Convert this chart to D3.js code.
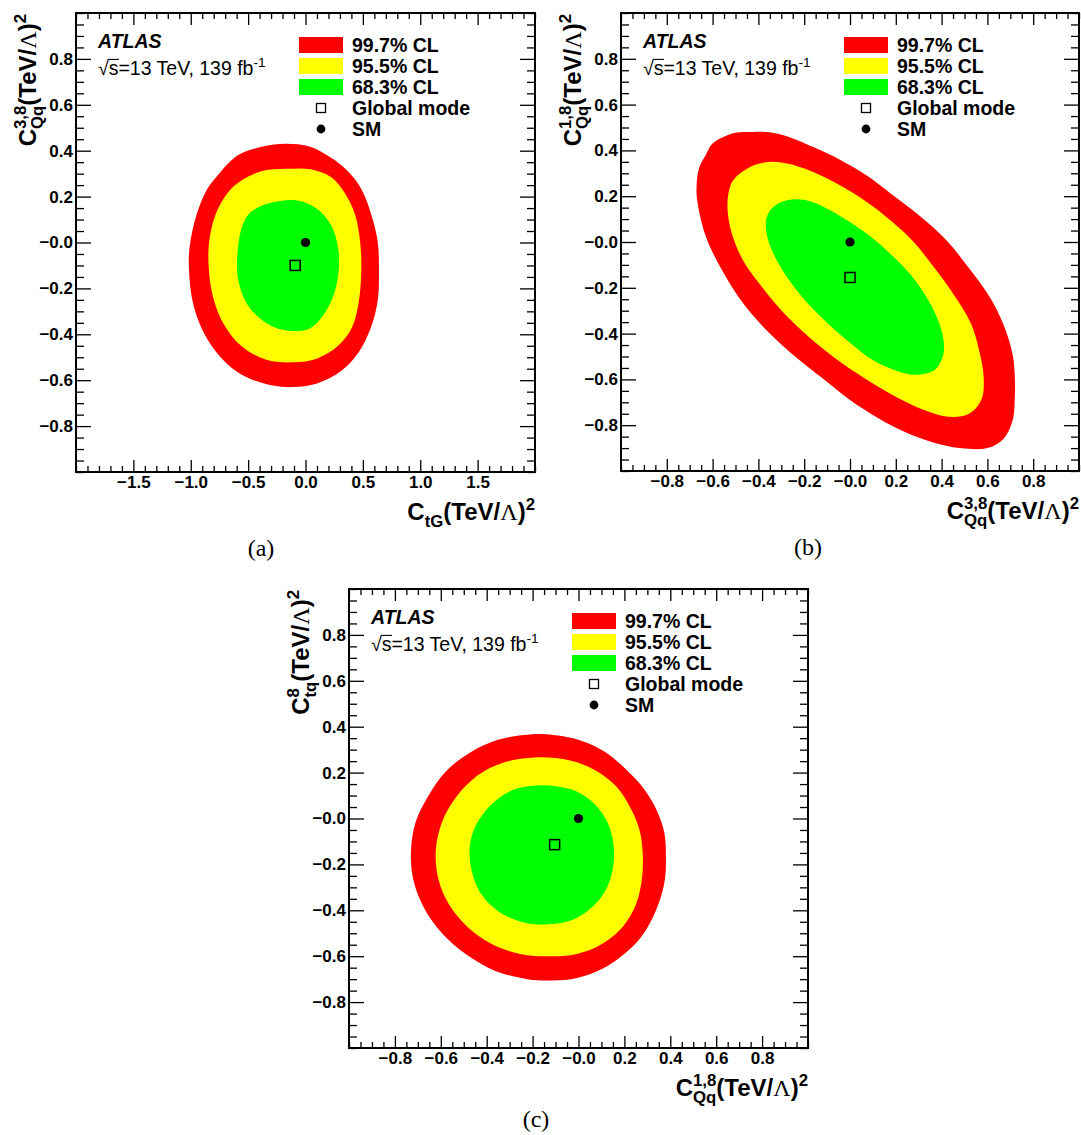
<!DOCTYPE html>
<html><head><meta charset="utf-8">
<script src="https://cdn.jsdelivr.net/npm/d3@7"></script>
<style>
body{margin:0;background:#fff;}
svg{display:block;}
text{font-family:"Liberation Sans",Arial,Helvetica,sans-serif;fill:#000;}
</style></head><body>
<svg id="chart" width="1081" height="1135"></svg>
<script>
// ---------------- DATA ----------------
const levelLabels = ["99.7% CL", "95.5% CL", "68.3% CL"];
const markerLabels = ["Global mode", "SM"];
const levelColors = ["#ff0000", "#ffff00", "#00ff00"];
const atlasLabel = "ATLAS";

const yDomain = [-1, 1];
const yMajor = [0.8, 0.6, 0.4, 0.2, 0, -0.2, -0.4, -0.6, -0.8];
const yLabels = ["0.8", "0.6", "0.4", "0.2", "\u22120.0", "\u22120.2", "\u22120.4", "\u22120.6", "\u22120.8"];

const xDomainA = [-2, 2];
const xMajorA = [-1.5, -1, -0.5, 0, 0.5, 1, 1.5];
const xLabelsA = ["\u22121.5", "\u22121.0", "\u22120.5", "0.0", "0.5", "1.0", "1.5"];
const xDomainBC = [-1, 1];
const xMajorBC = [-0.8, -0.6, -0.4, -0.2, 0, 0.2, 0.4, 0.6, 0.8];
const xLabelsBC = ["\u22120.8", "\u22120.6", "\u22120.4", "\u22120.2", "\u22120.0", "0.2", "0.4", "0.6", "0.8"];

// Panel (a): C_tG vs C_Qq^{3,8}
const contourA_997 = [[-0.17,0.43],[-0.38,0.417],[-0.59,0.38],[-0.77,0.29],[-0.86,0.23],[-0.95,0.12],[-1.01,-0.02],[-1.015,-0.125],[-0.98,-0.265],[-0.89,-0.39],[-0.74,-0.50],[-0.56,-0.575],[-0.32,-0.62],[-0.11,-0.63],[0.10,-0.614],[0.31,-0.56],[0.46,-0.48],[0.57,-0.37],[0.63,-0.25],[0.64,-0.125],[0.63,0.0],[0.58,0.11],[0.49,0.23],[0.37,0.31],[0.22,0.37],[0.04,0.417]];
const contourA_955 = [[-0.168,0.321],[-0.378,0.312],[-0.559,0.27],[-0.679,0.216],[-0.784,0.122],[-0.841,-0.002],[-0.841,-0.126],[-0.799,-0.25],[-0.709,-0.358],[-0.559,-0.451],[-0.348,-0.51],[-0.108,-0.522],[0.102,-0.505],[0.282,-0.451],[0.402,-0.374],[0.462,-0.265],[0.486,-0.126],[0.477,-0.002],[0.432,0.122],[0.342,0.216],[0.222,0.285],[0.042,0.319]];
const contourA_683 = [[-0.168,0.184],[-0.378,0.161],[-0.498,0.122],[-0.559,0.06],[-0.595,-0.064],[-0.589,-0.157],[-0.529,-0.25],[-0.438,-0.312],[-0.288,-0.366],[-0.108,-0.386],[0.042,-0.374],[0.162,-0.312],[0.252,-0.219],[0.291,-0.11],[0.282,-0.017],[0.222,0.076],[0.102,0.146],[-0.048,0.181]];
const modeA = [-0.09, -0.10];

// Panel (b): C_Qq^{3,8} vs C_Qq^{1,8}
const contourB_997 = [[-0.60,0.43],[-0.51,0.475],[-0.45,0.48],[-0.36,0.48],[-0.27,0.46],[-0.15,0.41],[-0.046,0.36],[0.073,0.29],[0.18,0.21],[0.30,0.118],[0.42,0.009],[0.52,-0.115],[0.61,-0.24],[0.67,-0.36],[0.71,-0.49],[0.72,-0.595],[0.72,-0.67],[0.71,-0.78],[0.67,-0.86],[0.60,-0.90],[0.48,-0.90],[0.36,-0.874],[0.24,-0.83],[0.118,-0.766],[0.0,-0.69],[-0.12,-0.595],[-0.24,-0.50],[-0.36,-0.39],[-0.465,-0.27],[-0.555,-0.13],[-0.63,0.025],[-0.667,0.18],[-0.67,0.24],[-0.66,0.32],[-0.63,0.38]];
const contourB_955 = [[-0.51,0.27],[-0.45,0.32],[-0.375,0.347],[-0.30,0.347],[-0.196,0.32],[-0.076,0.265],[0.043,0.195],[0.148,0.118],[0.27,0.009],[0.37,-0.115],[0.46,-0.24],[0.53,-0.36],[0.567,-0.487],[0.584,-0.595],[0.574,-0.688],[0.52,-0.75],[0.43,-0.763],[0.327,-0.735],[0.208,-0.68],[0.088,-0.61],[-0.03,-0.533],[-0.15,-0.44],[-0.27,-0.33],[-0.375,-0.208],[-0.465,-0.084],[-0.517,0.04],[-0.535,0.149],[-0.528,0.226]];
const contourB_683 = [[-0.36,0.118],[-0.33,0.157],[-0.27,0.183],[-0.196,0.183],[-0.106,0.149],[0.0,0.087],[0.088,0.025],[0.178,-0.053],[0.268,-0.146],[0.342,-0.254],[0.387,-0.347],[0.41,-0.44],[0.405,-0.50],[0.372,-0.557],[0.297,-0.58],[0.208,-0.564],[0.103,-0.518],[0.0,-0.44],[-0.106,-0.347],[-0.21,-0.239],[-0.30,-0.115],[-0.353,-0.006],[-0.368,0.071]];
const modeB = [0.0, -0.155];

// Panel (c): C_Qq^{1,8} vs C_tq^8
const contourC_997 = [[-0.2,0.367],[-0.347,0.344],[-0.47,0.289],[-0.58,0.203],[-0.657,0.094],[-0.71,-0.016],[-0.73,-0.14],[-0.72,-0.266],[-0.673,-0.39],[-0.595,-0.5],[-0.487,-0.594],[-0.363,-0.664],[-0.223,-0.70],[-0.115,-0.706],[-0.006,-0.695],[0.102,-0.656],[0.195,-0.594],[0.273,-0.516],[0.335,-0.406],[0.374,-0.281],[0.381,-0.172],[0.374,-0.0625],[0.343,0.031],[0.288,0.125],[0.21,0.211],[0.118,0.289],[0.009,0.34],[-0.1,0.3625]];
const contourC_955 = [[-0.192,0.266],[-0.332,0.242],[-0.44,0.1875],[-0.533,0.094],[-0.595,-0.016],[-0.622,-0.14],[-0.61,-0.266],[-0.564,-0.375],[-0.487,-0.469],[-0.378,-0.547],[-0.254,-0.59],[-0.13,-0.60],[-0.006,-0.59],[0.102,-0.547],[0.195,-0.469],[0.25,-0.375],[0.276,-0.266],[0.28,-0.156],[0.265,-0.047],[0.226,0.047],[0.164,0.14],[0.071,0.211],[-0.037,0.253]];
const contourC_683 = [[-0.184,0.144],[-0.285,0.125],[-0.378,0.0625],[-0.448,-0.031],[-0.474,-0.125],[-0.464,-0.234],[-0.425,-0.328],[-0.347,-0.406],[-0.239,-0.453],[-0.13,-0.461],[-0.022,-0.44],[0.071,-0.375],[0.126,-0.297],[0.152,-0.203],[0.152,-0.109],[0.126,-0.016],[0.071,0.0625],[-0.006,0.117],[-0.099,0.14]];
const modeC = [-0.104, -0.114];

const smPoint = [0, 0];

// axis titles (text parts)
const titleCtG   = [{t:"C"},{sub:"tG"},{t:"(TeV/"},{t:"\u039B",serif:true},{t:")"},{sup:"2"}];
const titleCQq38 = [{t:"C"},{sup:"3,8",sub:"Qq"},{t:"(TeV/"},{t:"\u039B",serif:true},{t:")"},{sup:"2"}];
const titleCQq18 = [{t:"C"},{sup:"1,8",sub:"Qq"},{t:"(TeV/"},{t:"\u039B",serif:true},{t:")"},{sup:"2"}];
const titleCtq8  = [{t:"C"},{sup:"8",sub:"tq"},{t:"(TeV/"},{t:"\u039B",serif:true},{t:")"},{sup:"2"}];
const energyParts = [{t:"\u221A"},{t:"s",over:true},{t:"=13 TeV, 139 fb"},{sup:"-1"}];
const captions = ["(a)", "(b)", "(c)"];

// ---------------- LAYOUT ----------------
const panels = [
  {frame:[76,13,535,472], xDomain:xDomainA, xMajor:xMajorA, xLabels:xLabelsA, xMinorStep:0.1,
   contours:[contourA_997,contourA_955,contourA_683], mode:modeA, xTitle:titleCtG, yTitle:titleCQq38, caption:captions[0], capX:261, capY:556},
  {frame:[621,13,1079,471], xDomain:xDomainBC, xMajor:xMajorBC, xLabels:xLabelsBC, xMinorStep:0.05,
   contours:[contourB_997,contourB_955,contourB_683], mode:modeB, xTitle:titleCQq38, yTitle:titleCQq18, caption:captions[1], capX:808, capY:555},
  {frame:[349,589,808,1048], xDomain:xDomainBC, xMajor:xMajorBC, xLabels:xLabelsBC, xMinorStep:0.05,
   contours:[contourC_997,contourC_955,contourC_683], mode:modeC, xTitle:titleCQq18, yTitle:titleCtq8, caption:captions[2], capX:536, capY:1127}
];
const yMinorStep = 0.05;
const FONT = "'Liberation Sans', Arial, Helvetica, sans-serif";
const SERIF = "'Liberation Serif', 'DejaVu Serif', serif";

const svg = d3.select("#chart");

function drawRich(parent, parts, size, weight) {
  const g = parent.append("g");
  let x = 0;
  const ss = size * 0.7;
  parts.forEach(p => {
    if (p.t !== undefined) {
      const t = g.append("text").attr("x", x).attr("y", 0)
        .style("font-size", size + "px")
        .style("font-weight", p.serif ? "normal" : weight)
        .style("font-family", p.serif ? SERIF : FONT)
        .text(p.t);
      const len = t.node().getComputedTextLength();
      if (p.over) {
        g.append("line").attr("x1", x - 1).attr("x2", x + len + 0.5)
          .attr("y1", -size * 0.80).attr("y2", -size * 0.80)
          .attr("stroke", "#000").attr("stroke-width", 1.1);
      }
      x += len;
    } else {
      let w = 0;
      if (p.sup !== undefined) {
        const t = g.append("text").attr("x", x).attr("y", -size * 0.42)
          .style("font-size", ss + "px").style("font-weight", weight).style("font-family", FONT)
          .text(p.sup);
        w = Math.max(w, t.node().getComputedTextLength());
      }
      if (p.sub !== undefined) {
        const t = g.append("text").attr("x", x).attr("y", size * 0.30)
          .style("font-size", ss + "px").style("font-weight", weight).style("font-family", FONT)
          .text(p.sub);
        w = Math.max(w, t.node().getComputedTextLength());
      }
      x += w;
    }
  });
  return {g, width: x};
}

function minors(domain, step, majors) {
  const out = [];
  const n = Math.round((domain[1] - domain[0]) / step);
  for (let i = 0; i <= n; i++) {
    const v = +(domain[0] + i * step).toFixed(5);
    if (!majors.some(m => Math.abs(m - v) < 1e-6)) out.push(v);
  }
  return out;
}

function styleAxis(sel) {
  sel.select(".domain").remove();
  sel.selectAll(".tick line").attr("stroke", "#000").attr("stroke-width", 1.3);
  sel.selectAll(".tick text").attr("fill", "#000")
    .style("font-size", "17px").style("font-weight", "bold").style("font-family", FONT);
}

panels.forEach(p => {
  const [x0, y0, x1, y1] = p.frame;
  const x = d3.scaleLinear().domain(p.xDomain).range([x0, x1]);
  const y = d3.scaleLinear().domain(yDomain).range([y1, y0]);
  const g = svg.append("g");

  // contours
  const line = d3.line().x(d => x(d[0])).y(d => y(d[1])).curve(d3.curveCatmullRomClosed.alpha(0.5));
  p.contours.forEach((c, i) => {
    g.append("path").attr("d", line(c)).attr("fill", levelColors[i]).attr("stroke", "none");
  });

  // axes: majors
  const xMin = minors(p.xDomain, p.xMinorStep, p.xMajor);
  const yMin = minors(yDomain, yMinorStep, yMajor);
  g.append("g").attr("transform", `translate(0,${y1})`)
    .call(d3.axisBottom(x).tickValues(p.xMajor).tickFormat((d, i) => p.xLabels[i]).tickSize(-12).tickPadding(4).tickSizeOuter(0))
    .call(styleAxis);
  g.append("g").attr("transform", `translate(0,${y1})`)
    .call(d3.axisBottom(x).tickValues(xMin).tickFormat("").tickSize(-6).tickSizeOuter(0)).call(styleAxis);
  g.append("g").attr("transform", `translate(0,${y0})`)
    .call(d3.axisTop(x).tickValues(p.xMajor).tickFormat("").tickSize(-12).tickSizeOuter(0)).call(styleAxis);
  g.append("g").attr("transform", `translate(0,${y0})`)
    .call(d3.axisTop(x).tickValues(xMin).tickFormat("").tickSize(-6).tickSizeOuter(0)).call(styleAxis);

  g.append("g").attr("transform", `translate(${x0},0)`)
    .call(d3.axisLeft(y).tickValues(yMajor).tickFormat((d, i) => yLabels[i]).tickSize(-15).tickPadding(3).tickSizeOuter(0))
    .call(styleAxis);
  g.append("g").attr("transform", `translate(${x0},0)`)
    .call(d3.axisLeft(y).tickValues(yMin).tickFormat("").tickSize(-8).tickSizeOuter(0)).call(styleAxis);
  g.append("g").attr("transform", `translate(${x1},0)`)
    .call(d3.axisRight(y).tickValues(yMajor).tickFormat("").tickSize(-15).tickSizeOuter(0)).call(styleAxis);
  g.append("g").attr("transform", `translate(${x1},0)`)
    .call(d3.axisRight(y).tickValues(yMin).tickFormat("").tickSize(-8).tickSizeOuter(0)).call(styleAxis);

  // frame
  g.append("rect").attr("x", x0).attr("y", y0).attr("width", x1 - x0).attr("height", y1 - y0)
    .attr("fill", "none").attr("stroke", "#000").attr("stroke-width", 2);

  // markers
  g.append("rect").attr("x", x(p.mode[0]) - 5).attr("y", y(p.mode[1]) - 5)
    .attr("width", 10).attr("height", 10).attr("fill", "none").attr("stroke", "#000").attr("stroke-width", 1.5);
  g.append("circle").attr("cx", x(smPoint[0])).attr("cy", y(smPoint[1])).attr("r", 4.6).attr("fill", "#000");

  // legend
  const rows = [32, 53, 74, 95, 116];
  levelLabels.forEach((lab, i) => {
    g.append("rect").attr("x", x0 + 223).attr("y", y0 + rows[i] - 8).attr("width", 44).attr("height", 16)
      .attr("fill", levelColors[i]);
    g.append("text").attr("x", x0 + 276).attr("y", y0 + rows[i] + 6.8)
      .style("font-size", "19.5px").style("font-weight", "bold").text(lab);
  });
  const mx = x0 + 245;
  g.append("rect").attr("x", mx - 4.5).attr("y", y0 + rows[3] - 4.5).attr("width", 9).attr("height", 9)
    .attr("fill", "none").attr("stroke", "#000").attr("stroke-width", 1.3);
  g.append("circle").attr("cx", mx).attr("cy", y0 + rows[4]).attr("r", 4.4).attr("fill", "#000");
  markerLabels.forEach((lab, i) => {
    g.append("text").attr("x", x0 + 276).attr("y", y0 + rows[3 + i] + 6.8)
      .style("font-size", "19.5px").style("font-weight", "bold").text(lab);
  });

  // ATLAS label
  g.append("text").attr("x", x0 + 22).attr("y", y0 + 35)
    .style("font-size", "19.5px").style("font-weight", "bold").style("font-style", "italic").text(atlasLabel);
  const en = drawRich(g, energyParts, 19.5, "normal");
  en.g.attr("transform", `translate(${x0 + 22},${y0 + 62})`);

  // axis titles
  const xt = drawRich(g, p.xTitle, 24, "bold");
  xt.g.attr("transform", `translate(${x1 - xt.width},${y1 + 48})`);
  const ytOuter = g.append("g").attr("transform", `translate(${x0 - 40},${y0 + 1}) rotate(-90)`);
  const yt = drawRich(ytOuter, p.yTitle, 24, "bold");
  yt.g.attr("transform", `translate(${-yt.width},0)`);

  // caption
  svg.append("text").attr("x", p.capX).attr("y", p.capY).attr("text-anchor", "middle")
    .style("font-family", SERIF).style("font-size", "24px").text(p.caption);
});
</script>
</body></html>
